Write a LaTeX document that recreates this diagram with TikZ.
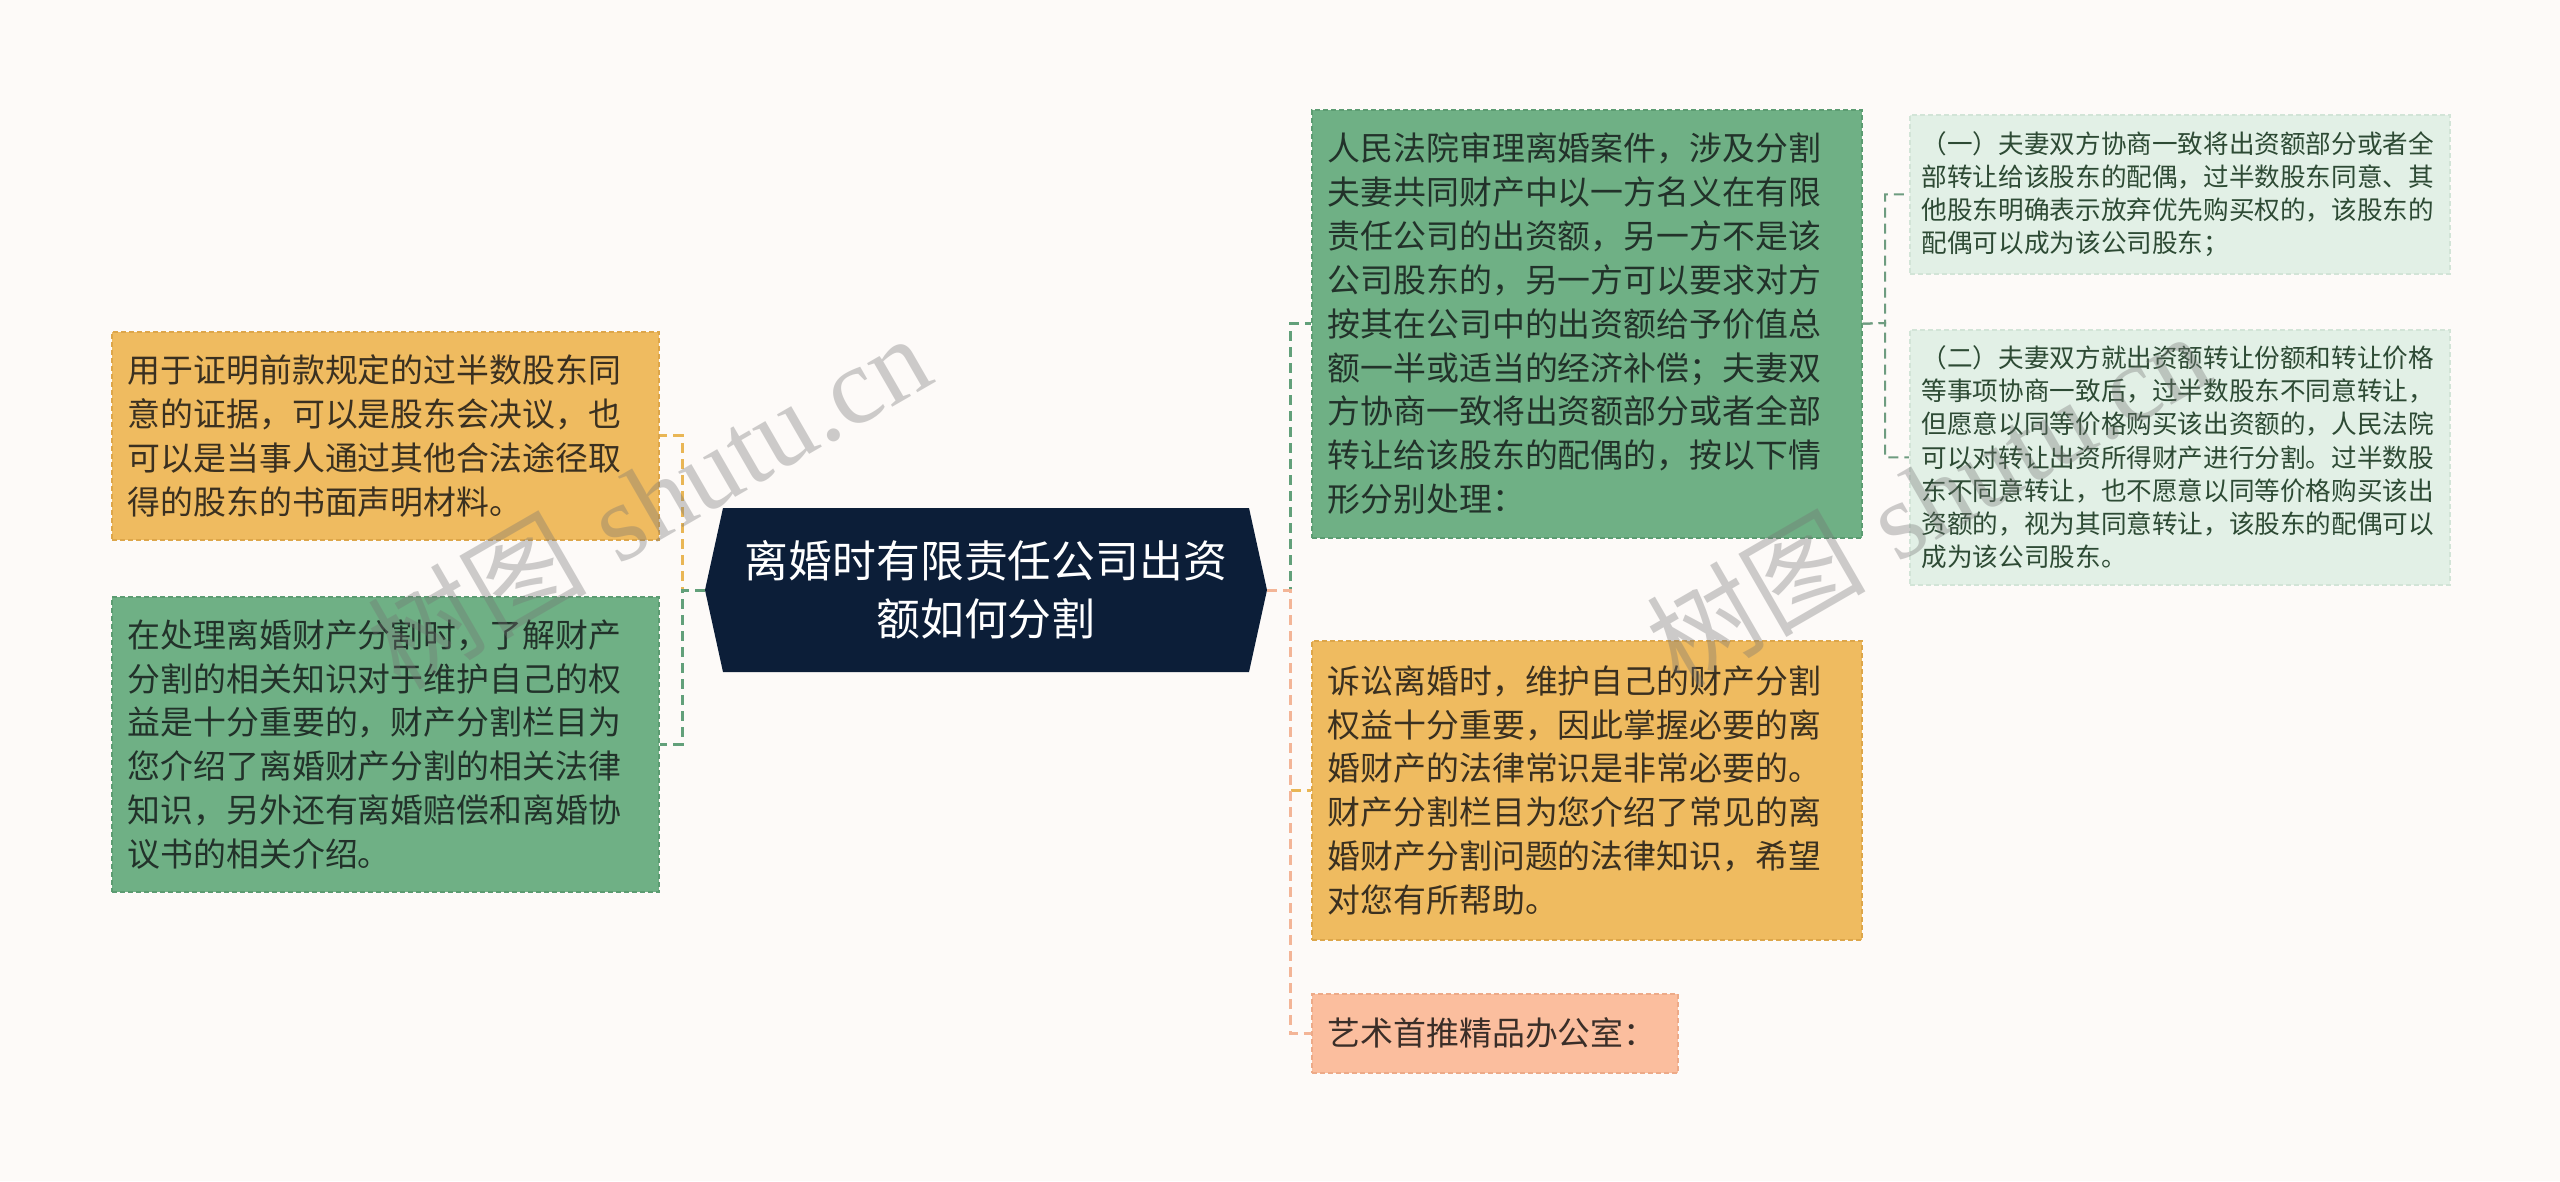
\documentclass[tikz,border=0pt]{standalone}
\usepackage{fontspec}
\newfontfamily\cjk{Noto Sans CJK SC}
\newfontfamily\wmserif{Liberation Serif}
\definecolor{bgc}{HTML}{FDFAF8}
\definecolor{navy}{HTML}{0C1E38}
\definecolor{orangeF}{HTML}{EFBB60}
\definecolor{orangeB}{HTML}{DDA64A}
\definecolor{greenF}{HTML}{6FB085}
\definecolor{greenB}{HTML}{5C9C72}
\definecolor{lgreenF}{HTML}{E2F0E6}
\definecolor{lgreenB}{HTML}{D2E4D7}
\definecolor{salmonF}{HTML}{FBBE9E}
\definecolor{salmonB}{HTML}{EDAA88}
\definecolor{orangeC}{HTML}{E9B655}
\definecolor{greenC}{HTML}{62A07A}
\definecolor{salmonC}{HTML}{F3B597}
\definecolor{subC}{HTML}{6E9C80}
\definecolor{txtO}{HTML}{3A3020}
\definecolor{txtG}{HTML}{22322A}
\definecolor{txtL}{HTML}{2D4A34}
\definecolor{txtS}{HTML}{3A2E28}
\begin{document}
\begin{tikzpicture}[x=1bp,y=-1bp,
  box/.style={draw, dash pattern=on 5bp off 3bp, line width=1.5bp, anchor=north west,
    align=left, inner xsep=16bp, inner ysep=0bp, font=\cjk\fontsize{33}{44}\selectfont},
  sbox/.style={box, inner xsep=12bp, font=\cjk\fontsize{25.7}{33.3}\selectfont,
    fill=lgreenF, draw=lgreenB, text=txtL, minimum width=540bp, text width=516bp},
  conn/.style={line width=3bp, dash pattern=on 10bp off 6bp},
  subconn/.style={line width=2bp, dash pattern=on 10bp off 6bp, color=subC},
  wm/.style={text=black!55, opacity=0.35, rotate=30, font=\fontsize{110}{110}\selectfont}]
\useasboundingbox (0,0) rectangle (2560,1181);
\fill[bgc] (0,0) rectangle (2560,1181);

% central topic
\fill[navy] (705,590) -- (723,508) -- (1249,508) -- (1267,590) -- (1249,672) -- (723,672) -- cycle;
\node[minimum width=562bp, minimum height=164bp, inner sep=0pt, align=center, text=white,
  font=\cjk\fontsize{44}{58}\selectfont] (c) at (986,590) {离婚时有限责任公司出资\\额如何分割};

% left boxes
\node[box, fill=orangeF, draw=orangeB, text=txtO, minimum width=547bp, minimum height=208bp, text width=515bp] (lo) at (111,331)
  {用于证明前款规定的过半数股东同\\意的证据，可以是股东会决议，也\\可以是当事人通过其他合法途径取\\得的股东的书面声明材料。};
\node[box, fill=greenF, draw=greenB, text=txtG, minimum width=547bp, minimum height=295bp, text width=515bp] (lg) at (111,596)
  {在处理离婚财产分割时，了解财产\\分割的相关知识对于维护自己的权\\益是十分重要的，财产分割栏目为\\您介绍了离婚财产分割的相关法律\\知识，另外还有离婚赔偿和离婚协\\议书的相关介绍。};

% right boxes
\node[box, fill=greenF, draw=greenB, text=txtG, minimum width=550bp, minimum height=428bp, text width=518bp] (rg) at (1311,109)
  {人民法院审理离婚案件，涉及分割\\夫妻共同财产中以一方名义在有限\\责任公司的出资额，另一方不是该\\公司股东的，另一方可以要求对方\\按其在公司中的出资额给予价值总\\额一半或适当的经济补偿；夫妻双\\方协商一致将出资额部分或者全部\\转让给该股东的配偶的，按以下情\\形分别处理：};
\node[box, fill=orangeF, draw=orangeB, text=txtO, minimum width=550bp, minimum height=299bp, text width=518bp] (ro) at (1311,640)
  {诉讼离婚时，维护自己的财产分割\\权益十分重要，因此掌握必要的离\\婚财产的法律常识是非常必要的。\\财产分割栏目为您介绍了常见的离\\婚财产分割问题的法律知识，希望\\对您有所帮助。};
\node[box, fill=salmonF, draw=salmonB, text=txtS, minimum width=366bp, minimum height=79bp, text width=334bp] (rs) at (1311,993)
  {艺术首推精品办公室：};

% sub boxes
\node[sbox, minimum height=159bp] (l1) at (1909,114)
  {（一）夫妻双方协商一致将出资额部分或者全\\部转让给该股东的配偶，过半数股东同意、其\\他股东明确表示放弃优先购买权的，该股东的\\配偶可以成为该公司股东；};
\node[sbox, minimum height=255bp] (l2) at (1909,329)
  {（二）夫妻双方就出资额转让份额和转让价格\\等事项协商一致后，过半数股东不同意转让，\\但愿意以同等价格购买该出资额的，人民法院\\可以对转让出资所得财产进行分割。过半数股\\东不同意转让，也不愿意以同等价格购买该出\\资额的，视为其同意转让，该股东的配偶可以\\成为该公司股东。};

% connectors
\coordinate (jl) at (682,590);
\coordinate (jr) at (1290,590);
\coordinate (js) at (1885,323);
\draw[conn, orangeC] (c.west) -- (jl) |- (lo.east);
\draw[conn, greenC] (c.west) -- (jl) |- (lg.east);
\draw[conn, greenC] (c.east) -- (jr) |- (rg.west);
\draw[conn, orangeC] (c.east) -- (jr) |- (ro.west);
\draw[conn, salmonC] (c.east) -- (jr) |- (rs.west);
\draw[subconn] (rg.east) -- (js) |- (l1.west);
\draw[subconn] (rg.east) -- (js) |- (l2.west);

% watermarks
\node[wm] (wm1) at (648,500) {{\cjk 树图} {\wmserif shutu.cn}};
\node[wm] (wm2) at (1927,498) {{\cjk 树图} {\wmserif shutu.cn}};
\end{tikzpicture}
\end{document}
